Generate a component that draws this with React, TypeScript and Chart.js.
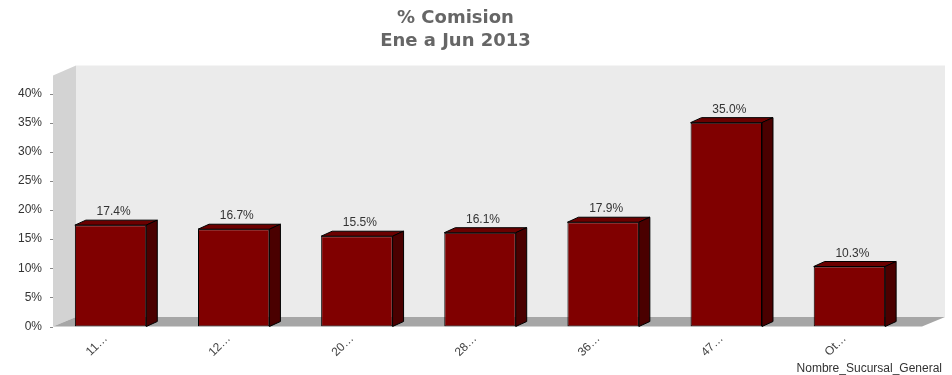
import React, { useEffect, useRef } from "react";
import { Chart, registerables } from "chart.js";

Chart.register(...registerables);

const categories = ["11…", "12…", "20…", "28…", "36…", "47…", "Ot…"];
const values = [17.4, 16.7, 15.5, 16.1, 17.9, 35.0, 10.3];
const yMin = 0;
const yMax = 40;
const yStep = 5;
const titleLines = ["% Comision", "Ene a Jun 2013"];
const xAxisTitle = "Nombre_Sucursal_General";

const FONT = "'Liberation Sans', Arial, sans-serif";

const threeD = {
  id: "threeD",
  beforeDatasetsDraw(chart: any) {
    const ctx = chart.ctx;
    const { left, right, top, bottom } = chart.chartArea;
    const x0 = left + 4;
    const WX = 23;
    const WY = 9.5;
    const backRight = right + 34;
    const frontRight = right + 11;
    const wallTop = 65.5;
    ctx.save();
    // back wall
    ctx.fillStyle = "#ebebeb";
    ctx.fillRect(x0 + WX, wallTop, backRight - (x0 + WX), bottom - WY - wallTop);
    // left wall
    ctx.fillStyle = "#d3d3d3";
    ctx.beginPath();
    ctx.moveTo(x0, wallTop + 10);
    ctx.lineTo(x0 + WX, wallTop);
    ctx.lineTo(x0 + WX, bottom - WY);
    ctx.lineTo(x0, bottom);
    ctx.closePath();
    ctx.fill();
    // floor
    ctx.fillStyle = "#a6a6a6";
    ctx.beginPath();
    ctx.moveTo(x0, bottom);
    ctx.lineTo(x0 + WX, bottom - WY);
    ctx.lineTo(backRight, bottom - WY);
    ctx.lineTo(frontRight, bottom);
    ctx.closePath();
    ctx.fill();
    // y tick marks
    const ys = chart.scales.y;
    ctx.strokeStyle = "#888";
    ctx.lineWidth = 1;
    ys.ticks.forEach((t: any) => {
      const py = Math.round(ys.getPixelForValue(t.value)) + 0.5;
      ctx.beginPath();
      ctx.moveTo(x0 - 3, py);
      ctx.lineTo(x0, py);
      ctx.stroke();
    });
    ctx.restore();
  },
  afterDatasetsDraw(chart: any) {
    const ctx = chart.ctx;
    const meta = chart.getDatasetMeta(0);
    const dx = 11;
    const dy = 5;
    ctx.save();
    ctx.lineWidth = 1;
    ctx.strokeStyle = "#000";
    meta.data.forEach((bar: any, i: number) => {
      const l = bar.x - bar.width / 2;
      const r = bar.x + bar.width / 2;
      const t = bar.y;
      const b = bar.base;
      // top face
      ctx.fillStyle = "#6b0000";
      ctx.beginPath();
      ctx.moveTo(l, t);
      ctx.lineTo(l + dx, t - dy);
      ctx.lineTo(r + dx, t - dy);
      ctx.lineTo(r, t);
      ctx.closePath();
      ctx.fill();
      ctx.stroke();
      // side face
      ctx.fillStyle = "#4a0000";
      ctx.beginPath();
      ctx.moveTo(r, t);
      ctx.lineTo(r + dx, t - dy);
      ctx.lineTo(r + dx, b - dy);
      ctx.lineTo(r, b);
      ctx.closePath();
      ctx.fill();
      ctx.stroke();
      // value label
      ctx.fillStyle = "#333";
      ctx.font = `12px ${FONT}`;
      ctx.textAlign = "center";
      ctx.textBaseline = "alphabetic";
      ctx.fillText(values[i].toFixed(1) + "%", bar.x + 3, t - dy - 5);
    });
    ctx.restore();
  },
  afterDraw(chart: any) {
    const ctx = chart.ctx;
    ctx.save();
    ctx.fillStyle = "#333";
    ctx.font = `12px ${FONT}`;
    ctx.textAlign = "right";
    ctx.textBaseline = "alphabetic";
    ctx.fillText(xAxisTitle, 942, 372);
    ctx.restore();
  },
};

export default function App() {
  const ref = useRef<HTMLCanvasElement>(null);
  useEffect(() => {
    if (!ref.current) return;
    const chart = new Chart(ref.current, {
      type: "bar",
      data: {
        labels: categories,
        datasets: [
          {
            data: values,
            backgroundColor: "#800000",
            borderColor: "#000",
            borderWidth: 1,
            borderSkipped: false,
            barPercentage: 0.58,
            categoryPercentage: 1,
          },
        ],
      },
      options: {
        responsive: false,
        animation: false,
        devicePixelRatio: 1,
        layout: { padding: { left: 0, right: 41, top: 0, bottom: 0 } },
        plugins: {
          legend: { display: false },
          tooltip: { enabled: false },
          title: {
            display: true,
            text: titleLines,
            color: "#666",
            font: { size: 18, weight: "bold", family: "'DejaVu Sans', Tahoma, sans-serif", lineHeight: "23px" },
            padding: { top: 6.5, bottom: 41 },
          },
        },
        scales: {
          x: {
            grid: { display: false, drawTicks: false },
            border: { display: false },
            ticks: {
              autoSkip: false,
              maxRotation: 45,
              minRotation: 45,
              color: "#444",
              font: { size: 12, family: FONT },
              padding: 5,
              labelOffset: -5,
            },
            afterFit: (s: any) => {
              s.height = 48.5;
            },
          },
          y: {
            min: yMin,
            max: yMax,
            grid: { display: false, drawTicks: false },
            border: { display: false },
            ticks: {
              stepSize: yStep,
              color: "#333",
              font: { size: 12, family: FONT },
              padding: 7,
              callback: (v: any) => v + "%",
            },
            afterFit: (s: any) => {
              s.width = 49;
            },
          },
        },
      },
      plugins: [threeD],
    });
    return () => chart.destroy();
  }, []);
  return (
    <div style={{ position: "absolute", left: 0, top: 0, width: 952, height: 375, background: "#fff" }}>
      <canvas ref={ref} width={952} height={375} />
    </div>
  );
}
